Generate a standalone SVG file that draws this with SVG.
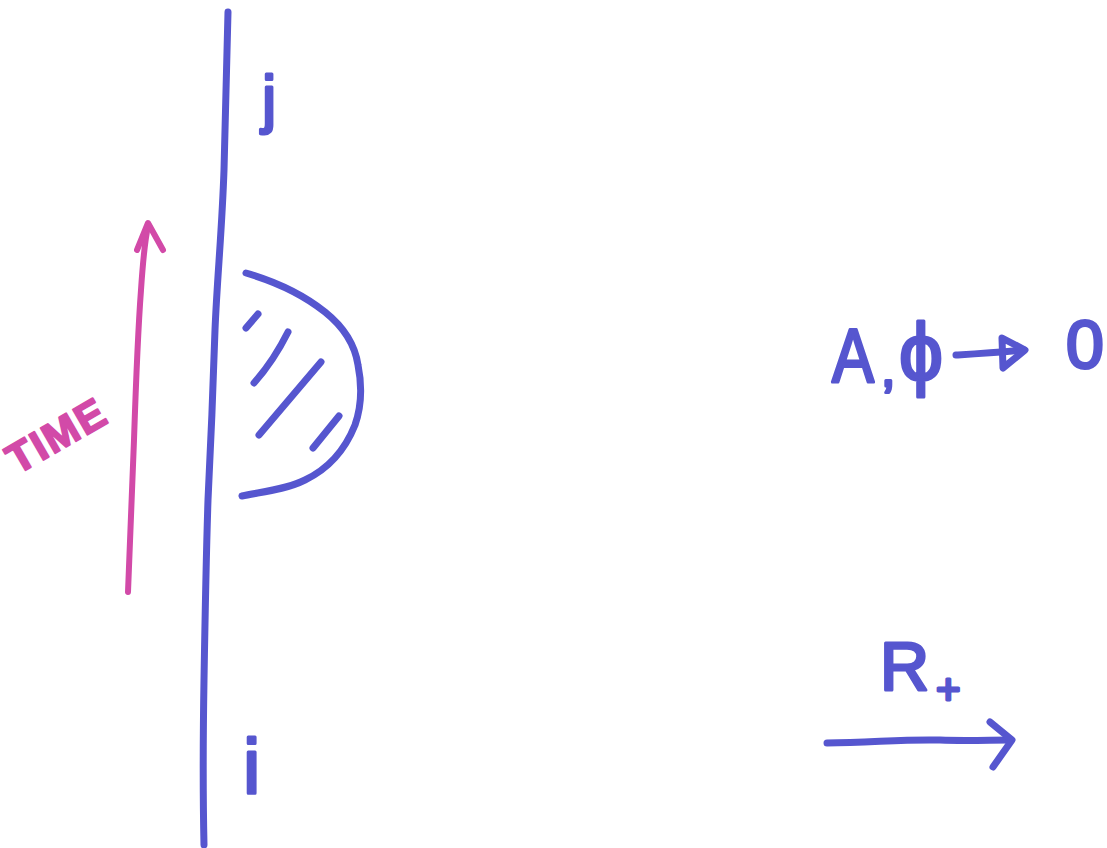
<svg xmlns="http://www.w3.org/2000/svg" width="1107" height="848" viewBox="0 0 1107 848">
<style>
.b{fill:none;stroke:#5656cf;stroke-width:7;stroke-linecap:round;stroke-linejoin:round}
.m{fill:none;stroke:#d24aa8;stroke-width:6;stroke-linecap:round;stroke-linejoin:round}
.tb{font-family:"Liberation Sans",Arial,sans-serif;fill:#5656cf;stroke:#5656cf;stroke-width:3;stroke-linejoin:round}
.tm{font-family:"Liberation Sans",Arial,sans-serif;fill:#d24aa8;stroke:#d24aa8;stroke-width:2;stroke-linejoin:round;font-weight:bold}
</style>
<rect width="1107" height="848" fill="#ffffff"/>
<g id="boundary">
<path class="b" d="M228,12 C227,60 226,110 224,170 C222,230 217,280 215,330 C213,390 211,440 208,500 C206,560 205,620 204,680 C203,740 203,800 204,845"/>
</g>
<g id="label-j"><text class="tb" x="262" y="121" font-size="64">j</text></g>
<g id="label-i"><text class="tb" x="243" y="794" font-size="78">i</text></g>
<g id="region">
<path class="b" d="M246,273 C270,280 300,292 325,312 C345,328 355,345 358,365 C362,385 362,405 355,425 C345,450 330,468 305,480 C285,490 260,492 242,496"/>
<path class="b" d="M246,328 L258,314"/>
<path class="b" d="M254,383 C270,365 280,348 288,332"/>
<path class="b" d="M259,435 L321,362"/>
<path class="b" d="M313,448 L339,416"/>
</g>
<g id="time-arrow">
<path class="m" d="M128,592 C130,540 132,490 134,440 C136,380 138,330 141,290 C143,260 145,240 148,226"/>
<path class="m" d="M137,250 L148,223 L163,250"/>
<text class="tm" x="64" y="448" font-size="42" text-anchor="middle" letter-spacing="2" transform="rotate(-30 64 448)">TIME</text>
</g>
<g id="limit">
<text class="tb" x="832" y="382" font-size="76" textLength="42" lengthAdjust="spacingAndGlyphs">A</text>
<text class="tb" x="881" y="386" font-size="52">,</text>
<text class="tb" x="899" y="380" font-size="82" textLength="44" lengthAdjust="spacingAndGlyphs">ϕ</text>
<path class="b" d="M956,355 C975,354 995,353 1024,350"/>
<path class="b" d="M1002,338 L1025,350 L1003,368 Z"/>
<text class="tb" x="1066" y="368" font-size="68">0</text>
</g>
<g id="r-plus">
<text class="tb" x="880" y="690" font-size="68">R</text>
<text class="tb" x="936" y="704" font-size="42">+</text>
<path class="b" d="M827,743 C870,743 900,739 940,740 C965,741 990,740 1011,740"/>
<path class="b" d="M990,722 L1012,740 L993,767"/>
</g>
</svg>
